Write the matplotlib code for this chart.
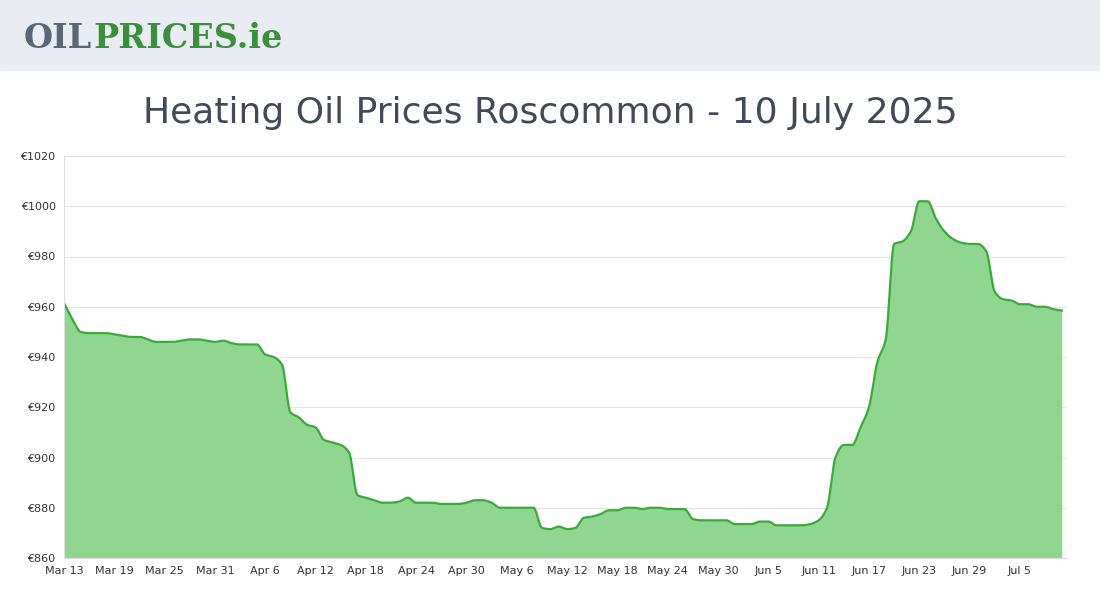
import matplotlib
matplotlib.use("Agg")
import matplotlib.pyplot as plt
import numpy as np

prices = [961.5,955,950,949.5,949.5,949.5,949,948.5,948,948,947,946,946,946,946.5,947,947,946.5,946,946.5,
          945.5,945,945,945,941,940,937,918,916,913,912,907,906,905,902,885,884,883,882,882,
          882.5,884,882,882,882,881.5,881.5,881.5,882,883,883,882,880,880,880,880,880,872,871.5,872.5,
          871.5,872,876,876.5,877.5,879,879,880,880,879.5,880,880,879.5,879.5,879.5,875.5,875,875,875,875,
          873.5,873.5,873.5,874.5,874.5,873,873,873,873,873.5,875,880,900,905,905,912,920,938,947,985,
          986,990,1002,1002,995,990,987,985.5,985,985,982,966,963,962.5,961,961,960,960,959,958.5]
tick_labels = ["Mar 13","Mar 19","Mar 25","Mar 31","Apr 6","Apr 12","Apr 18","Apr 24","Apr 30","May 6",
               "May 12","May 18","May 24","May 30","Jun 5","Jun 11","Jun 17","Jun 23","Jun 29","Jul 5"]
y_ticks = list(range(860, 1021, 20))

x = np.arange(len(prices))
def pchip(x, y, xs):
    y = np.asarray(y, float); h = np.diff(x); d = np.diff(y)/h
    m = np.zeros_like(y)
    for k in range(1, len(y)-1):
        if d[k-1]*d[k] > 0:
            w1 = 2*h[k]+h[k-1]; w2 = h[k]+2*h[k-1]
            m[k] = (w1+w2)/(w1/d[k-1]+w2/d[k])
    m[0] = d[0]; m[-1] = d[-1]
    idx = np.clip(np.searchsorted(x, xs)-1, 0, len(x)-2)
    t = (xs - x[idx])/h[idx]
    h00 = 2*t**3-3*t**2+1; h10 = t**3-2*t**2+t; h01 = -2*t**3+3*t**2; h11 = t**3-t**2
    return h00*y[idx]+h10*h[idx]*m[idx]+h01*y[idx+1]+h11*h[idx]*m[idx+1]
xs = np.linspace(0, len(prices)-1, 2000)
ys = pchip(x.astype(float), prices, xs)

fig = plt.figure(figsize=(11, 6), dpi=100)
fig.patches.append(plt.Rectangle((0, 530/600), 1, 70/600, transform=fig.transFigure, color="#e9ecf3", zorder=0))
fig.text(24/1100, 1-38/600, "OIL", fontsize=24, fontweight="bold", color="#5a6577", family="DejaVu Serif", va="center")
fig.text(93/1100, 1-38/600, "PRICES.ie", fontsize=24, fontweight="bold", color="#3a8f3a", family="DejaVu Serif", va="center")
fig.text(0.5, 1-113/600, "Heating Oil Prices Roscommon - 10 July 2025", fontsize=26, color="#414a5a",
         family="DejaVu Sans", fontweight="medium", ha="center", va="center")

ax = fig.add_axes([64/1100, 1-558/600, 1002/1100, 402/600])
ax.fill_between(xs, 860, ys, color="#90d690", lw=0)
ax.plot(xs, ys, color="#3aaa3a", lw=1.6)
ax.set_xlim(0, 119.5)
ax.set_ylim(860, 1020)
ax.set_yticks(y_ticks)
ax.set_yticklabels([f"€{v}" for v in y_ticks], fontsize=8, color="#333")
ax.set_xticks(np.arange(len(tick_labels))*6)
ax.set_xticklabels(tick_labels, fontsize=8, color="#333")
ax.grid(axis="y", color="#e5e5e5", lw=0.8)
ax.tick_params(length=0, pad=6)
for s in ["top", "right"]:
    ax.spines[s].set_visible(False)
for s in ["left", "bottom"]:
    ax.spines[s].set_color("#dddddd")
ax.set_axisbelow(True)
fig.savefig("out.png", dpi=100)
